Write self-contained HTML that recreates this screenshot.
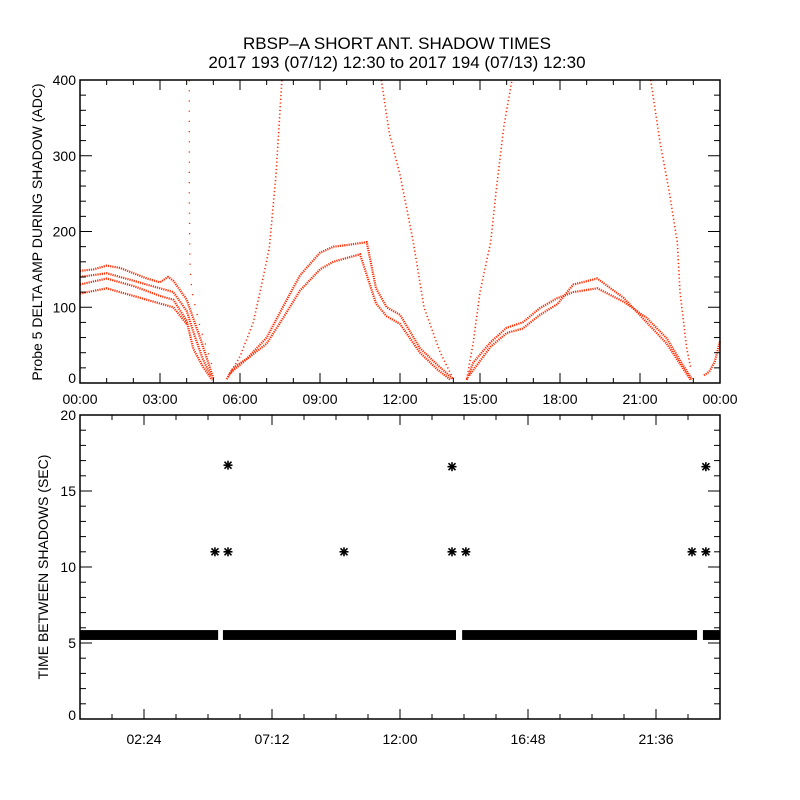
<!DOCTYPE html>
<html><head><meta charset="utf-8"><style>
body{margin:0;background:#fff}
svg{display:block;font-family:"Liberation Sans",sans-serif}
</style></head><body>
<svg id="chart" width="800" height="800" viewBox="0 0 800 800">
<rect width="800" height="800" fill="#fff"/>
<text x="397" y="49" font-size="17" text-anchor="middle">RBSP–A SHORT ANT. SHADOW TIMES</text>
<text x="397" y="68" font-size="17" text-anchor="middle">2017 193 (07/12) 12:30 to 2017 194 (07/13) 12:30</text>
<g id="topPanel"></g><g id="botPanel"></g>
<text transform="translate(42,232) rotate(-90)" font-size="14" text-anchor="middle">Probe 5 DELTA AMP DURING SHADOW (ADC)</text>
<text transform="translate(48,567) rotate(-90)" font-size="14" text-anchor="middle">TIME BETWEEN SHADOWS (SEC)</text>
</svg>
<script>
// ---- top panel data (hours, ADC) ----
const bandTimes1 = [0,0.5,1,1.5,2,2.5,3,3.3,3.5,4,4.2,4.5,4.8,5.0];
const bandVals1  = [148,150,155,152,145,138,133,140,135,110,90,60,28,6];
const bandTimes2 = [0,1,2,3,3.5,4,4.3,4.6,4.9];
const bandVals2  = [140,145,135,125,120,95,62,32,10];
const bandTimes3 = [0,1,2,3,3.5,4,4.25,4.6,4.95];
const bandVals3  = [130,138,128,115,110,82,45,22,4];
const bandTimes4 = [0,1,2,3,3.5,4];
const bandVals4  = [118,125,115,105,100,78];
const spikeTimes = [4.1,4.1,4.12,4.15,4.2,4.5,5.0];
const spikeVals  = [400,250,160,140,120,74,18];
const riseTimes1 = [5.55,6.0,6.5,6.75,7.1,7.35,7.57];
const riseVals1  = [8,35,80,120,178,275,400];
const archTimes1 = [5.5,5.75,6.25,7.0,7.6,8.25,9.0,9.5,10.0,10.75,11.1,11.5,12.0,12.75,13.4,14.0];
const archVals1  = [5,20,32,60,100,142,172,180,182,186,125,100,90,46,24,5];
const archTimes2 = [5.6,6.2,7.0,7.6,8.25,9.0,9.5,10.0,10.5,11.1,11.5,12.0,12.75,13.4,13.9];
const archVals2  = [12,30,52,85,122,150,160,165,170,105,88,78,40,18,4];
const fallTimes1 = [11.3,11.6,12.0,12.5,12.9,13.5,14.0];
const fallVals1  = [400,330,275,186,100,41,5];
const riseTimes2 = [14.5,14.75,15.0,15.4,15.6,15.9,16.2];
const riseVals2  = [5,54,120,186,252,340,400];
const archTimes3 = [14.5,14.75,15.4,16.0,16.6,17.25,17.9,18.5,19.4,20.4,21.25,22.0,22.6,22.95];
const archVals3  = [4,27,54,73,80,99,112,120,125,107,86,59,24,5];
const archTimes4 = [14.6,15.4,16.0,16.6,17.25,17.9,18.5,19.4,20.4,21.25,22.0,22.6,22.9];
const archVals4  = [10,48,66,72,90,104,130,138,112,80,52,20,4];
const fallTimes2 = [21.4,21.75,22.1,22.4,22.5,22.75,22.9];
const fallVals2  = [400,318,252,186,120,46,20];
const endTimes   = [23.4,23.6,23.8,24.0];
const endVals    = [10,15,28,55];
const topXLabels = ["00:00","03:00","06:00","09:00","12:00","15:00","18:00","21:00","00:00"];
const topYLabels = [0,100,200,300,400];
// ---- bottom panel data (hours, seconds) ----
const gapStarts  = [0,5.36,14.33,23.36];
const gapEnds    = [5.18,14.1,23.14,24];
const starTimes  = [5.06,5.55,5.55,9.9,13.95,13.95,14.47,22.95,23.47,23.47];
const starVals   = [11,11,16.7,11,11,16.6,11,11,11,16.6];
const botXLabels = ["02:24","07:12","12:00","16:48","21:36"];
const botYLabels = [0,5,10,15,20];

const NS="http://www.w3.org/2000/svg";
function mk(tag,attrs,parent){const e=document.createElementNS(NS,tag);for(const k in attrs)e.setAttribute(k,attrs[k]);parent.appendChild(e);return e;}
const X0=80,X1=720;
const xs=h=>X0+h*(X1-X0)/24;
const T0=80,T1=383, yt=v=>T1-v*(T1-T0)/400;
const B0=415,B1=719, yb=v=>B1-v*(B1-B0)/20;
const topG=document.getElementById('topPanel'), botG=document.getElementById('botPanel');

const series=[[bandTimes1,bandVals1],[bandTimes2,bandVals2],[bandTimes3,bandVals3],[bandTimes4,bandVals4],[spikeTimes,spikeVals],[riseTimes1,riseVals1],[archTimes1,archVals1],[archTimes2,archVals2],[fallTimes1,fallVals1],[riseTimes2,riseVals2],[archTimes3,archVals3],[archTimes4,archVals4],[fallTimes2,fallVals2],[endTimes,endVals]];
series.forEach((s,i)=>{
  const pts=s[0].map((t,j)=>xs(t).toFixed(1)+','+yt(Math.min(400,s[1][j])).toFixed(1)).join(' ');
  const steep=(i==5||i==8||i==9||i==12);
  const dash=i==4?'1.2 9':(steep?'1.2 2.5':'1.2 1');
  const w=i==4?1.3:(steep?1.6:2.2);
  const pl=mk('polyline',{points:pts,fill:'none',stroke:'#ff2a00','stroke-width':w,'stroke-dasharray':dash},topG);
  
  
});
const tb=mk('rect',{x:X0,y:T0,width:X1-X0,height:T1-T0,fill:'none',stroke:'#000','stroke-width':1.5},topG);


for(let h=0;h<=24;h+=1){const L=h%3==0?10:5;mk('line',{x1:xs(h),x2:xs(h),y1:T1,y2:T1-L,stroke:'#000'},topG);mk('line',{x1:xs(h),x2:xs(h),y1:T0,y2:T0+L,stroke:'#000'},topG);}
topXLabels.forEach((l,i)=>{const t=mk('text',{x:xs(i*3),y:404,'font-size':14,'text-anchor':'middle'},topG);t.textContent=l;

});
for(let v=0;v<=400;v+=20){const L=v%100==0?12:6;mk('line',{x1:X0,x2:X0+L,y1:yt(v),y2:yt(v),stroke:'#000'},topG);mk('line',{x1:X1,x2:X1-L,y1:yt(v),y2:yt(v),stroke:'#000'},topG);}
topYLabels.forEach(v=>{const t=mk('text',{x:76,y:Math.min(yt(v)+5,383),'font-size':14,'text-anchor':'end'},topG);t.textContent=v;

});
gapStarts.forEach((s,i)=>{const r=mk('rect',{x:xs(s),y:yb(5.85),width:xs(gapEnds[i])-xs(s),height:yb(5.2)-yb(5.85),fill:'#000'},botG);

});
starTimes.forEach((t,i)=>{const x=xs(t),y=yb(starVals[i]);const g=mk('g',{stroke:'#000','stroke-width':1.6},botG);


mk('line',{x1:x-4.5,x2:x+4.5,y1:y,y2:y},g);mk('line',{x1:x,x2:x,y1:y-4.5,y2:y+4.5},g);mk('line',{x1:x-3.5,x2:x+3.5,y1:y-3.5,y2:y+3.5},g);mk('line',{x1:x-3.5,x2:x+3.5,y1:y+3.5,y2:y-3.5},g);});
const bb=mk('rect',{x:X0,y:B0,width:X1-X0,height:B1-B0,fill:'none',stroke:'#000','stroke-width':1.5},botG);


for(let k=0;k<=20;k++){const h=k*1.2;const L=k%4==2?10:5;mk('line',{x1:xs(h),x2:xs(h),y1:B1,y2:B1-L,stroke:'#000'},botG);mk('line',{x1:xs(h),x2:xs(h),y1:B0,y2:B0+L,stroke:'#000'},botG);}
botXLabels.forEach((l,i)=>{const t=mk('text',{x:xs(2.4+i*4.8),y:744,'font-size':14,'text-anchor':'middle'},botG);t.textContent=l;

});
for(let v=0;v<=20;v++){const L=v%5==0?12:6;mk('line',{x1:X0,x2:X0+L,y1:yb(v),y2:yb(v),stroke:'#000'},botG);mk('line',{x1:X1,x2:X1-L,y1:yb(v),y2:yb(v),stroke:'#000'},botG);}
botYLabels.forEach(v=>{const t=mk('text',{x:76,y:Math.min(yb(v)+5,720),'font-size':14,'text-anchor':'end'},botG);t.textContent=v;

});
</script>
</body></html>
